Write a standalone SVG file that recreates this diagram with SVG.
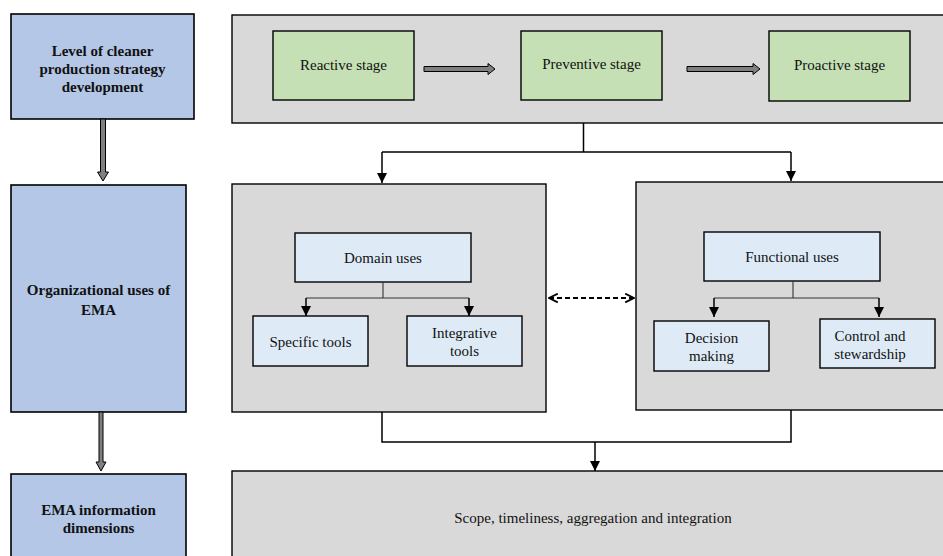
<svg xmlns="http://www.w3.org/2000/svg" width="943" height="556" viewBox="0 0 943 556">
<defs>
<style>
text{font-family:'Liberation Serif','Times New Roman','DejaVu Serif',serif;font-size:15px;fill:#111;text-anchor:middle}
.bold{font-weight:bold}
.blue{fill:#b4c7e7;stroke:#000;stroke-width:1.6}
.grey{fill:#d9d9d9;stroke:#000;stroke-width:1.4}
.green{fill:#c5e0b4;stroke:#000;stroke-width:1.4}
.pale{fill:#deebf7;stroke:#000;stroke-width:1.4}
.blk{fill:#7f7f7f;stroke:#000;stroke-width:1}
.con{fill:none;stroke:#000;stroke-width:1.5}
.thin{fill:none;stroke:#333;stroke-width:1.1}
</style>
<marker id="ah" viewBox="0 0 10 10" refX="10" refY="5" markerWidth="10" markerHeight="10" markerUnits="userSpaceOnUse" orient="auto">
<path d="M0,0 L10,5 L0,10 z" fill="#000"/>
</marker>
<marker id="ah2" viewBox="0 0 10 10" refX="10" refY="5" markerWidth="10" markerHeight="11" markerUnits="userSpaceOnUse" orient="auto">
<path d="M0,0 L10,5 L0,10 z" fill="#000"/>
</marker>
<marker id="open" viewBox="0 0 10 10" refX="9" refY="5" markerWidth="11" markerHeight="11" markerUnits="userSpaceOnUse" orient="auto-start-reverse">
<path d="M1,1 L9,5 L1,9" fill="none" stroke="#000" stroke-width="1.6"/>
</marker>
</defs>

<g id="level">
<rect class="blue" x="11" y="14" width="183" height="105"/>
<text class="bold" x="102.5" y="56" font-family="Liberation Serif, serif">Level of cleaner</text>
<text class="bold" x="102.5" y="74" font-family="Liberation Serif, serif">production strategy</text>
<text class="bold" x="102.5" y="92" font-family="Liberation Serif, serif">development</text>
</g>
<g id="orguses">
<rect class="blue" x="11" y="185" width="175" height="227"/>
<text class="bold" x="98.5" y="295">Organizational uses of</text>
<text class="bold" x="98.5" y="315">EMA</text>
</g>
<g id="infodims">
<rect class="blue" x="11" y="474" width="175" height="100"/>
<text class="bold" x="98.5" y="515">EMA information</text>
<text class="bold" x="98.5" y="533">dimensions</text>
</g>

<g id="stages">
<rect class="grey" x="232" y="15" width="720" height="108"/>
</g>
<g id="reactive">
<rect class="green" x="273" y="31" width="141" height="69"/>
<text x="343.5" y="70">Reactive stage</text>
</g>
<g id="preventive">
<rect class="green" x="521" y="31" width="141" height="69"/>
<text x="591.5" y="69">Preventive stage</text>
</g>
<g id="proactive">
<rect class="green" x="769" y="31" width="141" height="70"/>
<text x="839.5" y="70">Proactive stage</text>
</g>

<g id="domain">
<rect class="grey" x="232" y="184" width="314" height="228"/>
</g>
<g id="domainuses">
<rect class="pale" x="295" y="233" width="176" height="49"/>
<text x="383" y="263">Domain uses</text>
</g>
<g id="specific">
<rect class="pale" x="253" y="316" width="115" height="50"/>
<text x="310.5" y="347">Specific tools</text>
</g>
<g id="integrative">
<rect class="pale" x="407" y="316" width="115" height="50"/>
<text x="464.5" y="338">Integrative</text>
<text x="464.5" y="356">tools</text>
</g>

<g id="functional">
<rect class="grey" x="636" y="182" width="320" height="228"/>
</g>
<g id="functionaluses">
<rect class="pale" x="704" y="232" width="176" height="49"/>
<text x="792" y="262">Functional uses</text>
</g>
<g id="decision">
<rect class="pale" x="654" y="321" width="115" height="50"/>
<text x="711.5" y="343">Decision</text>
<text x="711.5" y="361">making</text>
</g>
<g id="control">
<rect class="pale" x="820" y="319" width="115" height="49"/>
<text x="870" y="341">Control and</text>
<text x="870" y="359">stewardship</text>
</g>

<g id="dimensions">
<rect class="grey" x="232" y="471" width="720" height="100"/>
<text x="593" y="523">Scope, timeliness, aggregation and integration</text>
</g>

<g id="connectors">
<polygon class="blk" points="100.5,119 105.5,119 105.5,172 108.5,172 103,181 97.5,172 100.5,172"/>
<polygon class="blk" points="99,412 103,412 103,462 106,462 101,471 96,462 99,462"/>
<polygon class="blk" points="424,66.5 488,66.5 488,63.5 495,69 488,74.5 488,71.5 424,71.5"/>
<polygon class="blk" points="687,66.5 753,66.5 753,63.5 760,69 753,74.5 753,71.5 687,71.5"/>
<path class="con" d="M583.5,123 V152 M382,152 H791"/>
<path class="con" d="M382,152 V183" marker-end="url(#ah)"/>
<path class="con" d="M791,152 V181" marker-end="url(#ah)"/>
<path class="thin" d="M383,282 V298 M306,298 H469 M793,281 V298 M714,298 H879"/>
<path class="con" d="M306,298 V316" marker-end="url(#ah)"/>
<path class="con" d="M469,298 V316" marker-end="url(#ah)"/>
<path class="con" d="M714,298 V317" marker-end="url(#ah)"/>
<path class="con" d="M879,298 V317" marker-end="url(#ah)"/>
<path d="M549,298 H634" fill="none" stroke="#000" stroke-width="1.8" stroke-dasharray="5,3" marker-start="url(#open)" marker-end="url(#open)"/>
<path class="con" d="M382,412 V442 H791 V410"/>
<path class="con" d="M595,442 V471" marker-end="url(#ah2)"/>
</g>
</svg>
